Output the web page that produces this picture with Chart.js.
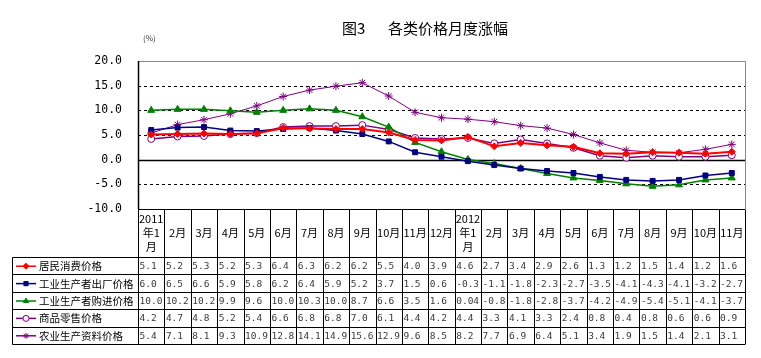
<!DOCTYPE html>
<html>
<head>
<meta charset="utf-8">
<script src="https://cdn.jsdelivr.net/npm/chart.js@4.4.1/dist/chart.umd.min.js"></script>
<style>
  html, body { margin: 0; padding: 0; background: #fff; }
  #c { display: block; }
</style>
</head>
<body>
<canvas id="c" width="761" height="358"></canvas>
<script>
'use strict';

// months, Jan 2011 .. Nov 2012
const months = ['2011年1月', '2月', '3月', '4月', '5月', '6月', '7月', '8月', '9月', '10月', '11月', '12月',
  '2012年1月', '2月', '3月', '4月', '5月', '6月', '7月', '8月', '9月', '10月', '11月'];
// header text as it is wrapped inside the table cells
const monthHeader = [['2011', '年1', '月'], ['2月'], ['3月'], ['4月'], ['5月'], ['6月'], ['7月'], ['8月'], ['9月'], ['10月'], ['11月'], ['12月'],
  ['2012', '年1', '月'], ['2月'], ['3月'], ['4月'], ['5月'], ['6月'], ['7月'], ['8月'], ['9月'], ['10月'], ['11月']];

const cpi = [5.1, 5.2, 5.3, 5.2, 5.3, 6.4, 6.3, 6.2, 6.2, 5.5, 4.0, 3.9, 4.6, 2.7, 3.4, 2.9, 2.6, 1.3, 1.2, 1.5, 1.4, 1.2, 1.6];
const ppiOut = [6.0, 6.5, 6.6, 5.9, 5.8, 6.2, 6.4, 5.9, 5.2, 3.7, 1.5, 0.6, -0.3, -1.1, -1.8, -2.3, -2.7, -3.5, -4.1, -4.3, -4.1, -3.2, -2.7];
const ppiIn = [10.0, 10.2, 10.2, 9.9, 9.6, 10.0, 10.3, 10.0, 8.7, 6.6, 3.5, 1.6, 0.04, -0.8, -1.8, -2.8, -3.7, -4.2, -4.9, -5.4, -5.1, -4.1, -3.7];
const retail = [4.2, 4.7, 4.8, 5.2, 5.4, 6.6, 6.8, 6.8, 7.0, 6.1, 4.4, 4.2, 4.4, 3.3, 4.1, 3.3, 2.4, 0.8, 0.4, 0.8, 0.6, 0.6, 0.9];
const agri = [5.4, 7.1, 8.1, 9.3, 10.9, 12.8, 14.1, 14.9, 15.6, 12.9, 9.6, 8.5, 8.2, 7.7, 6.9, 6.4, 5.1, 3.4, 1.9, 1.5, 1.4, 2.1, 3.1];

const seriesNames = ['居民消费价格', '工业生产者出厂价格', '工业生产者购进价格', '商品零售价格', '农业生产资料价格'];
const yTicks = [20, 15, 10, 5, 0, -5, -10];

const CJK = '"Noto Sans CJK SC", "Noto Sans", sans-serif';
const MONO = '"DejaVu Sans Mono", "Liberation Mono", monospace';

function fmt(v) {
  // one decimal unless the source shows more (0.04)
  return Math.abs(Math.round(v * 10) - v * 10) < 1e-9 ? v.toFixed(1) : String(v);
}

const TABLE_LEFT = 12.5;
const HEADER_BOTTOM = 257;
const ROW_H = 17.4;

const framePlugin = {
  id: 'frame',
  beforeDatasetsDraw(chart) {
    const { ctx, chartArea: a } = chart;
    const y = chart.scales.y;
    ctx.save();
    ctx.lineWidth = 1;
    ctx.strokeStyle = '#000';
    ctx.setLineDash([3, 3]);
    yTicks.forEach((t) => {
      if (t === 0 || t === 20 || t === -10) return;
      const py = Math.round(y.getPixelForValue(t)) + 0.5;
      ctx.beginPath();
      ctx.moveTo(a.left, py);
      ctx.lineTo(a.right, py);
      ctx.stroke();
    });
    ctx.setLineDash([]);
    // zero line
    const zy = Math.round(y.getPixelForValue(0)) + 0.5;
    ctx.lineWidth = 1.5;
    ctx.beginPath();
    ctx.moveTo(a.left, zy);
    ctx.lineTo(a.right, zy);
    ctx.stroke();
    // gray top / right border
    ctx.lineWidth = 1;
    ctx.strokeStyle = '#888';
    ctx.beginPath();
    ctx.moveTo(a.left, Math.round(a.top) + 0.5);
    ctx.lineTo(Math.round(a.right) + 0.5, Math.round(a.top) + 0.5);
    ctx.lineTo(Math.round(a.right) + 0.5, Math.round(a.bottom));
    ctx.stroke();
    // black left border
    ctx.strokeStyle = '#000';
    ctx.lineWidth = 1.5;
    ctx.beginPath();
    ctx.moveTo(Math.round(a.left) + 0.5, a.top);
    ctx.lineTo(Math.round(a.left) + 0.5, a.bottom);
    ctx.stroke();
    ctx.restore();
  },
  afterDraw(chart) {
    const { ctx, chartArea: a } = chart;
    const x = chart.scales.x;
    const colW = (a.right - a.left) / months.length;
    const top = Math.round(a.bottom) + 0.5;
    const bottom = HEADER_BOTTOM + ROW_H * seriesNames.length;
    ctx.save();
    ctx.strokeStyle = '#000';
    ctx.lineWidth = 1;

    // horizontal rules
    ctx.beginPath();
    ctx.moveTo(a.left, top);
    ctx.lineTo(a.right, top);
    for (let r = 0; r <= seriesNames.length; r++) {
      const py = Math.round(HEADER_BOTTOM + r * ROW_H) + 0.5;
      ctx.moveTo(TABLE_LEFT, py);
      ctx.lineTo(a.right, py);
    }
    // vertical rules
    for (let i = 0; i <= months.length; i++) {
      const px = Math.round(a.left + i * colW) + 0.5;
      ctx.moveTo(px, top);
      ctx.lineTo(px, Math.round(bottom) + 0.5);
    }
    ctx.moveTo(TABLE_LEFT, HEADER_BOTTOM + 0.5);
    ctx.lineTo(TABLE_LEFT, Math.round(bottom) + 0.5);
    ctx.stroke();

    // header cells
    ctx.fillStyle = '#000';
    ctx.font = '11px ' + CJK;
    ctx.textAlign = 'center';
    ctx.textBaseline = 'middle';
    const headMid = (a.bottom + HEADER_BOTTOM) / 2;
    monthHeader.forEach((lines, i) => {
      const cx = x.getPixelForValue(i);
      lines.forEach((t, k) => {
        ctx.fillText(t, cx, headMid + (k - (lines.length - 1) / 2) * 14);
      });
    });

    // rows: legend key + values
    chart.data.datasets.forEach((ds, r) => {
      const cy = HEADER_BOTTOM + (r + 0.5) * ROW_H + 0.5;
      ctx.strokeStyle = ds.borderColor;
      ctx.lineWidth = 1.5;
      ctx.beginPath();
      ctx.moveTo(16, cy);
      ctx.lineTo(36, cy);
      ctx.stroke();
      ctx.fillStyle = ds.pointBackgroundColor;
      ctx.strokeStyle = ds.pointBorderColor;
      ctx.lineWidth = 1;
      Chart.helpers.drawPoint(ctx, {
        pointStyle: ds.pointStyle,
        radius: 3,
        borderWidth: 1,
        rotation: 0
      }, 26, cy);

      ctx.fillStyle = '#000';
      ctx.textAlign = 'left';
      ctx.font = '10.5px ' + CJK;
      ctx.fillText(seriesNames[r], 39, cy);

      ctx.fillStyle = '#3a3a3a';
      ctx.font = '9.5px ' + MONO;
      ds.data.forEach((v, i) => {
        ctx.fillText(fmt(v), a.left + i * colW + 1.5, cy + 0.5);
      });
    });

    // title and unit
    ctx.fillStyle = '#000';
    ctx.textAlign = 'left';
    ctx.font = '15px ' + CJK;
    ctx.fillText('图3', 342, 28);
    ctx.fillText('各类价格月度涨幅', 388, 28);
    ctx.fillStyle = '#444';
    ctx.font = '8px ' + CJK;
    ctx.fillText('(%)', 143, 38);
    ctx.restore();
  }
};

function line(label, data, color, style, radius, fill, width) {
  return {
    label,
    data,
    borderColor: color,
    backgroundColor: color,
    borderWidth: width,
    pointStyle: style,
    pointRadius: radius,
    pointBackgroundColor: fill,
    pointBorderColor: color,
    pointBorderWidth: 1,
    tension: 0
  };
}

new Chart(document.getElementById('c'), {
  type: 'line',
  data: {
    labels: months,
    datasets: [
      line(seriesNames[0], cpi, '#FF0000', 'rectRot', 3.5, '#FF0000', 2),
      line(seriesNames[1], ppiOut, '#000080', 'rect', 3.5, '#000080', 1.5),
      line(seriesNames[2], ppiIn, '#008000', 'triangle', 4, '#008000', 1.5),
      line(seriesNames[3], retail, '#800080', 'circle', 3.5, '#FFFFFF', 1.5),
      line(seriesNames[4], agri, '#800080', 'star', 4, '#800080', 1)
    ]
  },
  options: {
    responsive: false,
    animation: false,
    devicePixelRatio: 1,
    layout: { padding: { top: 61, right: 16, left: 0, bottom: 0 } },
    plugins: {
      legend: { display: false },
      tooltip: { enabled: false },
      title: { display: false }
    },
    scales: {
      x: {
        type: 'category',
        offset: true,
        grid: { display: false },
        border: { display: false },
        ticks: { display: false },
        afterFit(s) { s.height = 149; }
      },
      y: {
        min: -10,
        max: 20,
        grid: { display: false },
        border: { display: false },
        ticks: {
          stepSize: 5,
          padding: 8,
          color: '#000',
          font: { family: MONO, size: 11.5 },
          callback: (v) => v.toFixed(1)
        },
        afterFit(s) { s.width = 138; }
      }
    }
  },
  plugins: [framePlugin]
});
</script>
</body>
</html>
